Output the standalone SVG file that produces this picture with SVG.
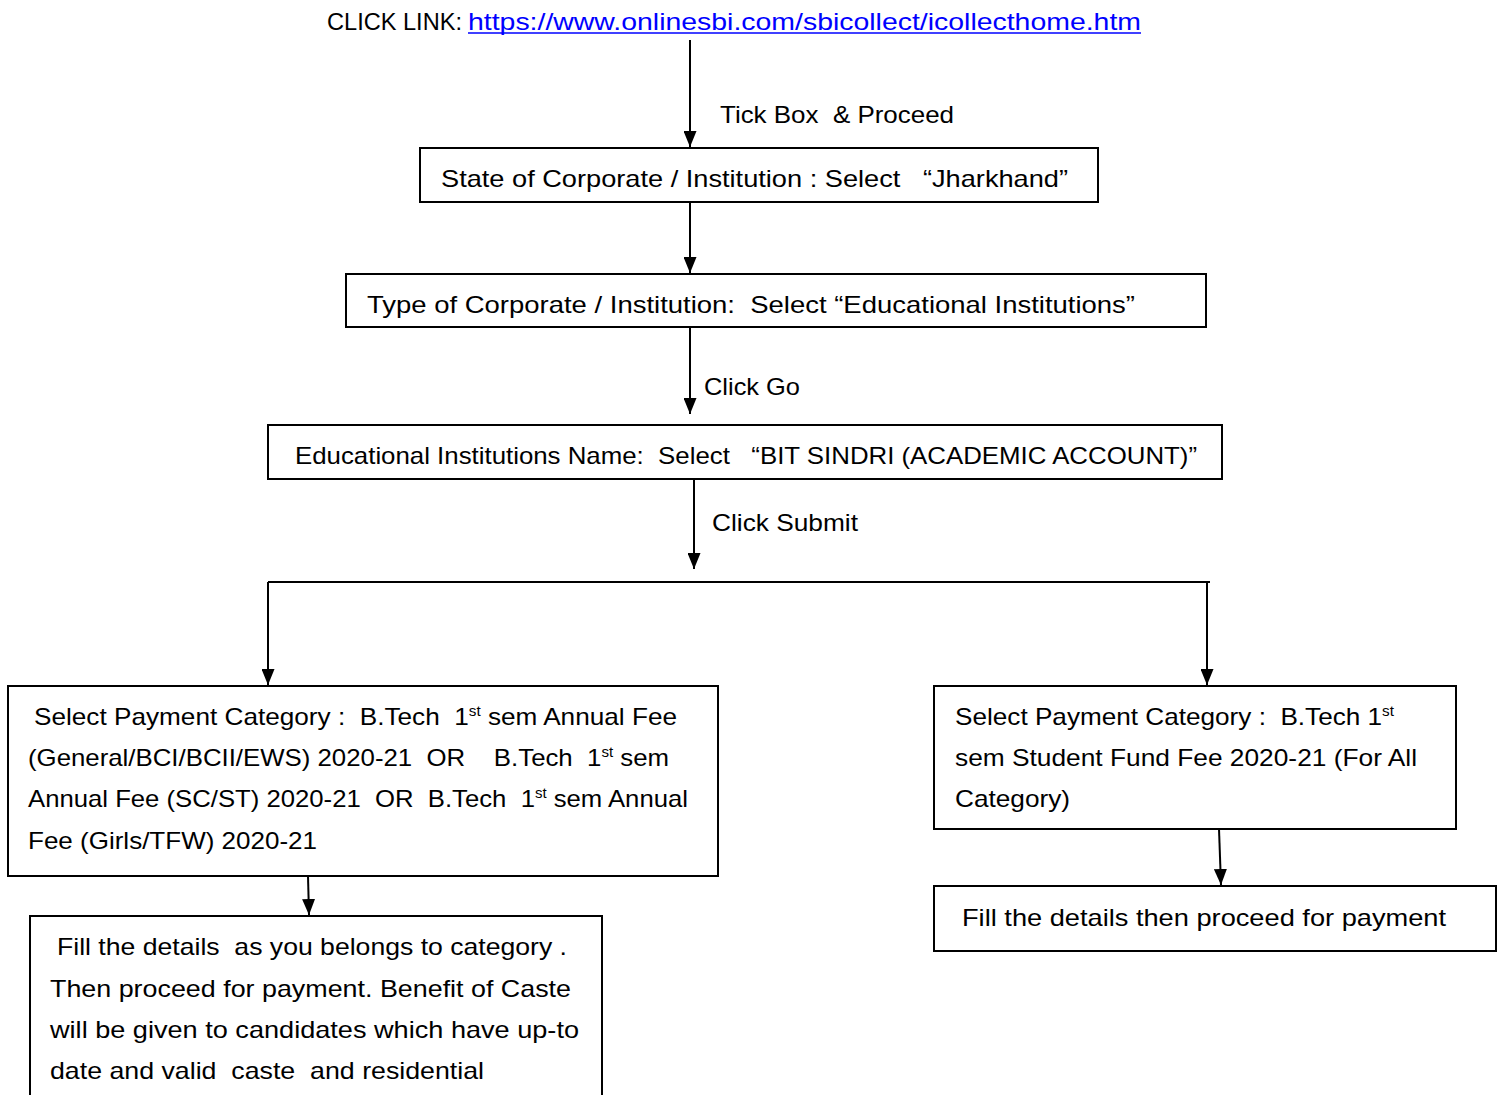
<svg xmlns="http://www.w3.org/2000/svg" width="1502" height="1095" viewBox="0 0 1502 1095">
<defs>
<marker id="ah" markerWidth="16" markerHeight="13" refX="16" refY="6.5" orient="auto" markerUnits="userSpaceOnUse" viewBox="0 0 16 13">
<path d="M0,0 L16,6.5 L0,13 Z" fill="#000"/>
</marker>
<style>
text{font-family:"Liberation Sans",Arial,sans-serif;font-size:24px;fill:#000;white-space:pre}
.box{fill:#fff;stroke:#000;stroke-width:2}
.con{stroke:#000;stroke-width:2;fill:none}
.arr{stroke:#000;stroke-width:2;fill:none;marker-end:url(#ah)}
.sup{font-size:14px}
.link{fill:#0000ff}
</style>
</defs>
<rect width="1502" height="1095" fill="#fff"/>
<g id="connectors">
<line class="arr" x1="690" y1="40" x2="690" y2="147"/>
<line class="arr" x1="690" y1="202" x2="690" y2="273"/>
<line class="arr" x1="690" y1="327" x2="690" y2="414"/>
<line class="arr" x1="694" y1="479" x2="694" y2="569"/>
<line class="con" x1="268" y1="582" x2="1210" y2="582"/>
<line class="arr" x1="268" y1="582" x2="268" y2="685"/>
<line class="arr" x1="1207" y1="582" x2="1207" y2="685"/>
<line class="arr" x1="308" y1="876" x2="309" y2="915"/>
<line class="arr" x1="1219" y1="829" x2="1221" y2="885"/>
<text x="720" y="123" textLength="234" lengthAdjust="spacingAndGlyphs">Tick Box  &amp; Proceed</text>
<text x="704" y="395" textLength="96" lengthAdjust="spacingAndGlyphs">Click Go</text>
<text x="712" y="531" textLength="146" lengthAdjust="spacingAndGlyphs">Click Submit</text>
</g>
<g id="title">
<text x="327" y="30" textLength="135" lengthAdjust="spacingAndGlyphs">CLICK LINK:</text>
<text class="link" x="468" y="30" textLength="673" lengthAdjust="spacingAndGlyphs">https://www.onlinesbi.com/sbicollect/icollecthome.htm</text>
<line x1="468" y1="33" x2="1141" y2="33" stroke="#0000ff" stroke-width="1.5"/>
</g>
<g id="state">
<rect class="box" x="420" y="148" width="678" height="54"/>
<text x="441" y="187" textLength="627" lengthAdjust="spacingAndGlyphs">State of Corporate / Institution : Select   “Jharkhand”</text>
</g>
<g id="type">
<rect class="box" x="346" y="274" width="860" height="53"/>
<text x="367" y="313" textLength="768" lengthAdjust="spacingAndGlyphs">Type of Corporate / Institution:  Select “Educational Institutions”</text>
</g>
<g id="name">
<rect class="box" x="268" y="425" width="954" height="54"/>
<text x="295" y="464" textLength="902" lengthAdjust="spacingAndGlyphs">Educational Institutions Name:  Select   “BIT SINDRI (ACADEMIC ACCOUNT)”</text>
</g>
<g id="category-left">
<rect class="box" x="8" y="686" width="710" height="190"/>
<text x="34" y="725" textLength="643" lengthAdjust="spacingAndGlyphs">Select Payment Category :  B.Tech  1<tspan class="sup" dy="-9">st</tspan><tspan dy="9"> sem Annual Fee</tspan></text>
<text x="28" y="766" textLength="641" lengthAdjust="spacingAndGlyphs">(General/BCI/BCII/EWS) 2020-21  OR    B.Tech  1<tspan class="sup" dy="-9">st</tspan><tspan dy="9"> sem</tspan></text>
<text x="28" y="807" textLength="660" lengthAdjust="spacingAndGlyphs">Annual Fee (SC/ST) 2020-21  OR  B.Tech  1<tspan class="sup" dy="-9">st</tspan><tspan dy="9"> sem Annual</tspan></text>
<text x="28" y="849" textLength="289" lengthAdjust="spacingAndGlyphs">Fee (Girls/TFW) 2020-21</text>
</g>
<g id="category-right">
<rect class="box" x="934" y="686" width="522" height="143"/>
<text x="955" y="725" textLength="439" lengthAdjust="spacingAndGlyphs">Select Payment Category :  B.Tech 1<tspan class="sup" dy="-9">st</tspan></text>
<text x="955" y="766" textLength="462" lengthAdjust="spacingAndGlyphs">sem Student Fund Fee 2020-21 (For All</text>
<text x="955" y="807" textLength="115" lengthAdjust="spacingAndGlyphs">Category)</text>
</g>
<g id="fill-left">
<rect class="box" x="30" y="916" width="572" height="200"/>
<text x="57" y="955" textLength="510" lengthAdjust="spacingAndGlyphs">Fill the details  as you belongs to category .</text>
<text x="50" y="997" textLength="521" lengthAdjust="spacingAndGlyphs">Then proceed for payment. Benefit of Caste</text>
<text x="50" y="1038" textLength="529" lengthAdjust="spacingAndGlyphs">will be given to candidates which have up-to</text>
<text x="50" y="1079" textLength="434" lengthAdjust="spacingAndGlyphs">date and valid  caste  and residential</text>
</g>
<g id="fill-right">
<rect class="box" x="934" y="886" width="562" height="65"/>
<text x="962" y="926" textLength="484" lengthAdjust="spacingAndGlyphs">Fill the details then proceed for payment</text>
</g>
</svg>
